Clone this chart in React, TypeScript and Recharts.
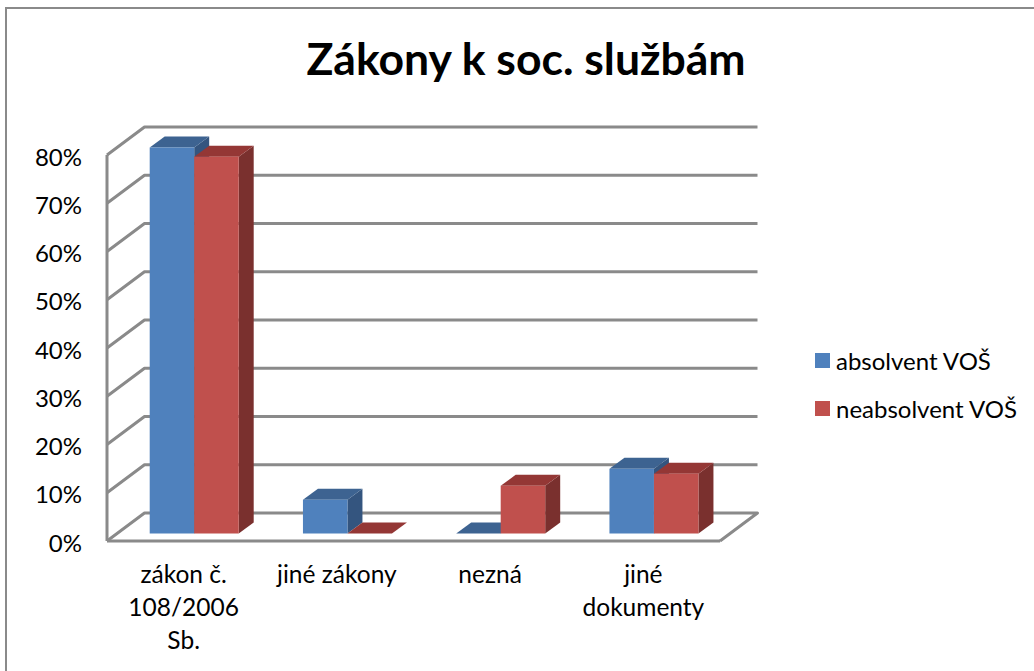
import { BarChart, Bar, XAxis, YAxis, CartesianGrid, Legend } from 'recharts';

const categories = ['zákon č. 108/2006 Sb.', 'jiné zákony', 'nezná', 'jiné dokumenty'];
const absolvent = [80, 7, 0, 13.4];
const neabsolvent = [78.1, 0, 9.9, 12.4];
const yTicks = [0, 10, 20, 30, 40, 50, 60, 70, 80];
const tickLines: Record<string, string[]> = {
  'zákon č. 108/2006 Sb.': ['zákon č.', '108/2006', 'Sb.'],
  'jiné zákony': ['jiné zákony'],
  'nezná': ['nezná'],
  'jiné dokumenty': ['jiné', 'dokumenty'],
};

const data = categories.map((name, i) => ({
  name,
  absolvent: absolvent[i],
  neabsolvent: neabsolvent[i],
}));

const FONT = 'Lato, sans-serif';
const GRID = '#8a8a8a';
// depth of the fake 3D box
const WALL_DX = 37.5;
const WALL_DY = -28;
const BAR_DX = 10.7;
const BAR_DY = -7.5;
const SIDE_DX = 15;
const SIDE_DY = -11;

const make3DBar = (front: string, top: string, side: string) => (props: any) => {
  const x = props.x + BAR_DX;
  const y = props.y + BAR_DY;
  const { width: w, height: h } = props;
  return (
    <g>
      <polygon
        points={`${x + w},${y} ${x + w + SIDE_DX},${y + SIDE_DY} ${x + w + SIDE_DX},${y + h + SIDE_DY} ${x + w},${y + h}`}
        fill={side}
      />
      <polygon
        points={`${x},${y} ${x + SIDE_DX},${y + SIDE_DY} ${x + w + SIDE_DX},${y + SIDE_DY} ${x + w},${y}`}
        fill={top}
      />
      <rect x={x} y={y} width={w} height={h} fill={front} />
    </g>
  );
};

const BlueBar = make3DBar('#4f81bd', '#3d6391', '#34557f');
const RedBar = make3DBar('#c0504d', '#943735', '#7a302e');

const gridLine = (props: any) => {
  const { x1, x2, y1, index } = props;
  const isFloor = Math.abs(y1 - 541) < 1;
  return (
    <g key={`grid-${index}`}>
      <polyline
        points={`${x1},${y1} ${x1 + WALL_DX},${y1 + WALL_DY} ${x2 + WALL_DX},${y1 + WALL_DY}${isFloor ? ` ${x2},${y1}` : ''}`}
        fill="none"
        stroke={GRID}
        strokeWidth={3}
        strokeLinejoin="round"
      />
    </g>
  );
};

const CategoryTick = ({ x, y, payload }: any) => (
  <text x={x} y={y} textAnchor="middle" fontFamily={FONT} fontSize={24.5} fill="#000">
    {(tickLines[payload.value] || [payload.value]).map((line, i) => (
      <tspan key={line} x={x} dy={i === 0 ? 0 : 33}>
        {line}
      </tspan>
    ))}
  </text>
);

const LegendBox = ({ payload }: any) => (
  <div style={{ fontFamily: FONT, fontSize: 24, color: '#000' }}>
    {(payload || []).map((item: any) => (
      <div key={item.value} style={{ display: 'flex', alignItems: 'center', height: 48 }}>
        <span style={{ width: 15, height: 15, background: item.color, marginRight: 6 }} />
        <span>{item.value}</span>
      </div>
    ))}
  </div>
);

const App = () => {
  return (
    <div style={{ position: 'absolute', left: 0, top: 0, width: 1034, height: 671, background: '#fff', overflow: 'hidden' }}>
      <div
        style={{
          position: 'absolute',
          left: 5,
          top: 7,
          width: 1040,
          height: 680,
          borderLeft: '2px solid #8a8a8a',
          borderTop: '2px solid #8a8a8a',
        }}
      />
      <div
        style={{
          position: 'absolute',
          left: 0,
          top: 33,
          width: 1052,
          textAlign: 'center',
          fontFamily: FONT,
          fontWeight: 700,
          fontSize: 44.5,
          lineHeight: '50px',
          color: '#000',
        }}
      >
        Zákony k soc. službám
      </div>
      <div style={{ position: 'absolute', left: 0, top: 0 }}>
        <BarChart
          width={1034}
          height={671}
          data={data}
          margin={{ top: 155, right: 99, bottom: 0, left: 0 }}
          barSize={44.5}
          barGap={0}
        >
          <CartesianGrid vertical={false} horizontal={gridLine} />
          <XAxis
            dataKey="name"
            interval={0}
            tickLine={false}
            height={130}
            tick={<CategoryTick />}
            tickMargin={36}
            axisLine={{ stroke: GRID, strokeWidth: 3 }}
          />
          <YAxis
            width={107}
            domain={[0, 80]}
            ticks={yTicks}
            interval={0}
            tickFormatter={(v) => `${v}%`}
            tickLine={false}
            tickMargin={19}
            tick={{ fontFamily: FONT, fontSize: 24, fill: '#000', dy: 2 }}
            axisLine={{ stroke: GRID, strokeWidth: 3 }}
          />
          <Legend
            layout="vertical"
            align="right"
            verticalAlign="middle"
            width={215}
            content={<LegendBox />}
            wrapperStyle={{ left: 815, right: 'auto', top: 336, bottom: 'auto' }}
          />
          <Bar dataKey="absolvent" name="absolvent VOŠ" fill="#4f81bd" shape={BlueBar} isAnimationActive={false} />
          <Bar dataKey="neabsolvent" name="neabsolvent VOŠ" fill="#c0504d" shape={RedBar} isAnimationActive={false} />
        </BarChart>
      </div>
    </div>
  );
};

export default App;
